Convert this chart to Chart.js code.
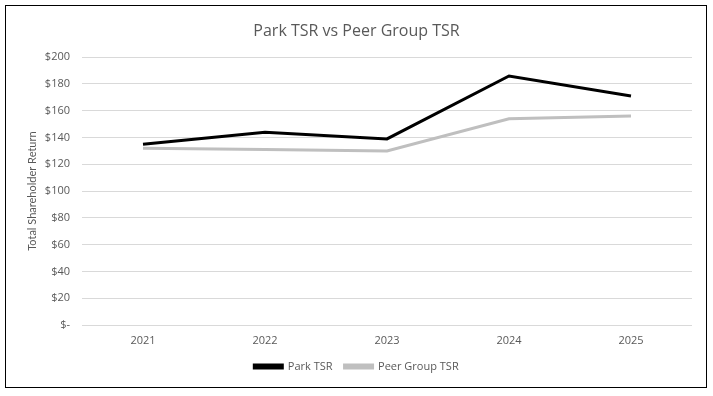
<!DOCTYPE html>
<html>
<head>
<meta charset="utf-8">
<script src="https://cdn.jsdelivr.net/npm/chart.js@4"></script>
<style>
    html, body { margin: 0; padding: 0; background: #fff; }
    #wrap { position: relative; width: 713px; height: 396px; }
</style>
</head>
<body>
<div id="wrap"><canvas id="tsrChart" width="713" height="396"></canvas></div>
<script>
const years = ["2021", "2022", "2023", "2024", "2025"];
const parkTsr = [135, 144, 139, 186, 171];
const peerTsr = [132, 131, 130, 154, 156];
const yTicks = [0, 20, 40, 60, 80, 100, 120, 140, 160, 180, 200];

const textColor = "#595959";
const fontFamily = "'Open Sans', 'Liberation Sans', sans-serif";

// frame round the whole chart, like the Excel chart border
const framePlugin = {
    id: "frame",
    afterDraw: function (chart) {
        const ctx = chart.ctx;
        ctx.save();
        ctx.strokeStyle = "#000";
        ctx.lineWidth = 1;
        ctx.strokeRect(5.5, 5.5, 701, 382);
        ctx.restore();
    }
};

new Chart(document.getElementById("tsrChart"), {
    type: "line",
    data: {
        labels: years,
        datasets: [
            {
                label: "Park TSR",
                data: parkTsr,
                borderColor: "#000000",
                backgroundColor: "#000000",
                borderWidth: 3,
                pointRadius: 0,
                tension: 0
            },
            {
                label: "Peer Group TSR",
                data: peerTsr,
                borderColor: "#bfbfbf",
                backgroundColor: "#bfbfbf",
                borderWidth: 3,
                pointRadius: 0,
                tension: 0
            }
        ]
    },
    options: {
        responsive: false,
        animation: false,
        layout: { padding: { left: 0, right: 0, top: 22, bottom: 14 } },
        plugins: {
            title: {
                display: true,
                text: "Park TSR vs Peer Group TSR",
                color: textColor,
                font: { family: fontFamily, size: 16, weight: "normal" },
                padding: { top: 0, bottom: 16 }
            },
            legend: {
                position: "bottom",
                labels: {
                    color: textColor,
                    font: { family: fontFamily, size: 11 },
                    boxWidth: 28,
                    boxHeight: 3,
                    padding: 12
                }
            },
            tooltip: { enabled: false }
        },
        scales: {
            x: {
                offset: true,
                grid: { display: false, drawTicks: false },
                border: { display: false },
                afterFit: function (scale) { scale.height = 24; },
                ticks: {
                    color: textColor,
                    font: { family: fontFamily, size: 11 },
                    padding: 9
                }
            },
            y: {
                min: 0,
                max: 200,
                afterFit: function (scale) { scale.width = 82; },
                afterBuildTicks: function (scale) {
                    scale.ticks = yTicks.map(function (v) { return { value: v }; });
                },
                grid: { color: "#d9d9d9", drawTicks: false },
                border: { display: false },
                ticks: {
                    color: textColor,
                    font: { family: fontFamily, size: 11 },
                    padding: 12,
                    callback: function (v) { return v === 0 ? "$-" : "$" + v; }
                },
                title: {
                    display: true,
                    text: "Total Shareholder Return",
                    color: textColor,
                    font: { family: "Lato, 'Open Sans', sans-serif", size: 11 },
                    padding: { top: 26, bottom: 0 }
                }
            },
            // empty right-hand axis, only keeps the plot off the right frame
            spacer: {
                type: "linear",
                position: "right",
                afterFit: function (scale) { scale.width = 21; },
                grid: { display: false },
                border: { display: false },
                ticks: { display: false }
            }
        }
    },
    plugins: [framePlugin]
});
</script>
</body>
</html>
